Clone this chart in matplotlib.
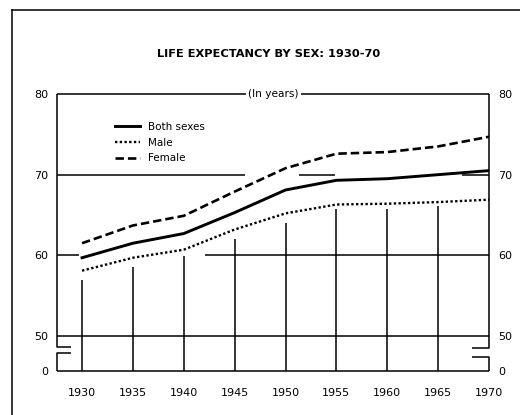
import matplotlib
matplotlib.use("Agg")
import matplotlib.pyplot as plt
from matplotlib.lines import Line2D

# ---- data ----
years = [1930, 1935, 1940, 1945, 1950, 1955, 1960, 1965, 1970]
both_sexes = [59.7, 61.5, 62.7, 65.3, 68.1, 69.3, 69.5, 70.0, 70.5]
male = [58.1, 59.7, 60.7, 63.2, 65.2, 66.3, 66.4, 66.6, 66.9]
female = [61.5, 63.7, 64.9, 67.9, 70.8, 72.6, 72.8, 73.5, 74.7]
series_labels = ["Both sexes", "Male", "Female"]
ytick_values = [0, 50, 60, 70, 80]
title = "LIFE EXPECTANCY BY SEX: 1930-70"
unit_label = "(In years)"

# ---- layout constants ----
ZERO_POS = 45.66           # where the broken-axis "0" sits on the display scale
XMIN, XMAX = 1927.54, 1970
YTOP = 80
grid_tops = [56.9, 58.6, 59.9, 62.0, 64.0, 65.7, 65.7, 66.1]  # vertical rule tops

def ypos(v):
    return ZERO_POS if v == 0 else v

W, H = 520, 415
fig = plt.figure(figsize=(W / 100, H / 100), dpi=100)
ax = fig.add_axes([57 / W, (H - 371) / H, (489 - 57) / W, (371 - 94) / H])
ax.set_xlim(XMIN, XMAX)
ax.set_ylim(ZERO_POS, YTOP)
for s in ax.spines.values():
    s.set_visible(False)

K = "black"
glw = 1.1
kw = dict(color=K, lw=glw, clip_on=False, solid_capstyle="butt")

# frame: top, left spine with break, right spine with break, bottom
ax.plot([XMIN, XMAX], [80, 80], **kw)
ax.plot([XMIN, XMIN, 1928.92], [80, 48.64, 48.64], **kw)
ax.plot([1928.92, XMIN, XMIN], [47.9, 47.9, ZERO_POS], **kw)
ax.plot([XMAX, XMAX, 1968.3], [80, 48.5, 48.5], **kw)
ax.plot([1968.3, XMAX, XMAX], [47.4, 47.4, ZERO_POS], **kw)
ax.plot([XMIN, XMAX], [ZERO_POS, ZERO_POS], **kw)

# horizontal rules
ax.plot([XMIN, XMAX], [50, 50], **kw)
ax.plot([XMIN, 1929.7], [60, 60], **kw)
ax.plot([1942.1, XMAX], [60, 60], **kw)
ax.plot([XMIN, 1946.0], [70, 70], **kw)
ax.plot([1951.3, 1954.9], [70, 70], **kw)
ax.plot([1967.3, XMAX], [70, 70], **kw)

# vertical rules
ax.vlines(years[:-1], ZERO_POS, grid_tops, colors=K, lw=glw)

# series
l1, = ax.plot(years, both_sexes, color=K, lw=2.1, ls="-",
              solid_joinstyle="round", label=series_labels[0])
l2, = ax.plot(years, male, color=K, lw=1.7, ls=(0, (1, 1)),
              label=series_labels[1])
l3, = ax.plot(years, female, color=K, lw=1.9, ls=(0, (3.2, 1.5)),
              label=series_labels[2])

# ticks
ax.set_xticks(years)
ax.set_xticklabels([str(y) for y in years])
ax.set_yticks([ypos(v) for v in ytick_values])
ax.set_yticklabels([str(v) for v in ytick_values])
ax.tick_params(axis="both", length=0, labelsize=8, colors=K)
ax.tick_params(axis="x", pad=12)
ax.tick_params(axis="y", pad=6.5, labelright=True, right=False)
for t in ax.get_yticklabels() + ax.get_xticklabels():
    t.set_fontfamily("DejaVu Sans")

# unit label interrupting the top line
ax.text(1948.8, 80, unit_label, ha="center", va="center", fontsize=7.6,
        family="DejaVu Sans",
        bbox=dict(facecolor="white", edgecolor="none", pad=1.5))

# title
fig.text(268.5 / W, (H - 54) / H, title, ha="center", va="center",
         fontsize=8.2, fontweight="bold", family="DejaVu Sans")

# legend
leg = fig.legend(handles=[l1, l2, l3], loc="upper left",
                 bbox_to_anchor=(115 / W, (H - 122) / H),
                 frameon=False, fontsize=7.5, handlelength=2.4,
                 handletextpad=0.75, labelspacing=0.55, borderpad=0,
                 borderaxespad=0)

# outer frame of the page
fig.add_artist(Line2D([12 / W, 1.0], [(H - 10) / H, (H - 10) / H],
                      transform=fig.transFigure, color=K, lw=1.1))
fig.add_artist(Line2D([12 / W, 12 / W], [0, (H - 10) / H],
                      transform=fig.transFigure, color=K, lw=1.1))

fig.savefig("out.png", dpi=100)
